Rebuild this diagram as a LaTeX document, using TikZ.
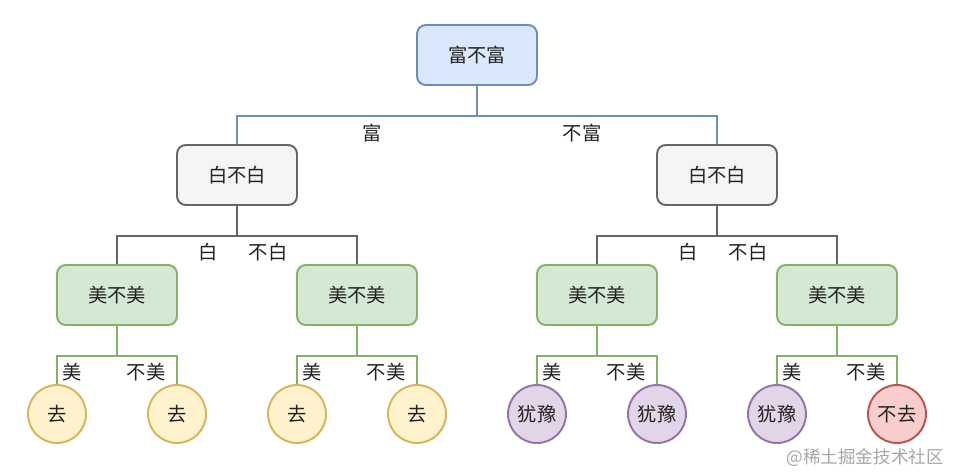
\documentclass[tikz,border=0pt]{standalone}
\usepackage{fontspec}
\setmainfont{Noto Sans CJK SC}
\usetikzlibrary{positioning}

\definecolor{bluefill}{HTML}{DAE8FC}
\definecolor{bluedraw}{HTML}{6C8EBF}
\definecolor{grayfill}{HTML}{F5F5F5}
\definecolor{graydraw}{HTML}{666666}
\definecolor{greenfill}{HTML}{D5E8D4}
\definecolor{greendraw}{HTML}{82B366}
\definecolor{yellowfill}{HTML}{FFF2CC}
\definecolor{yellowdraw}{HTML}{D6B656}
\definecolor{purplefill}{HTML}{E1D5E7}
\definecolor{purpledraw}{HTML}{9673A6}
\definecolor{redfill}{HTML}{F8CECC}
\definecolor{reddraw}{HTML}{B85450}
\definecolor{txt}{HTML}{222222}

\tikzset{
  box/.style={rounded corners=5pt, minimum width=2.4cm, minimum height=1.2cm, line width=1.1pt, text=txt, font=\fontsize{11}{13}\selectfont},
  leaf/.style={circle, minimum size=1.16cm, inner sep=0pt, line width=1.1pt, text=txt, font=\fontsize{11}{13}\selectfont},
  lbl/.style={text=txt, font=\fontsize{11}{13}\selectfont},
  link/.style={line width=1.1pt}
}

\begin{document}
\begin{tikzpicture}[x=0.02cm, y=-0.02cm]
        % Sfondo
        \useasboundingbox (0,0) rectangle (955,474);

        % Radice
        \node[box, fill=bluefill, draw=bluedraw] (root) at (477,55) {富不富};

        % Secondo livello
        \node[box, fill=grayfill, draw=graydraw] (wl) at (237,175) {白不白};
        \node[box, fill=grayfill, draw=graydraw] (wr) at (717,175) {白不白};

        % Terzo livello
        \node[box, fill=greenfill, draw=greendraw] (m1) at (117,295) {美不美};
        \node[box, fill=greenfill, draw=greendraw] (m2) at (357,295) {美不美};
        \node[box, fill=greenfill, draw=greendraw] (m3) at (597,295) {美不美};
        \node[box, fill=greenfill, draw=greendraw] (m4) at (837,295) {美不美};

        % Foglie
        \node[leaf, fill=yellowfill, draw=yellowdraw] (g1) at (57,414) {去};
        \node[leaf, fill=yellowfill, draw=yellowdraw] (g2) at (177,414) {去};
        \node[leaf, fill=yellowfill, draw=yellowdraw] (g3) at (297,414) {去};
        \node[leaf, fill=yellowfill, draw=yellowdraw] (g4) at (417,414) {去};
        \node[leaf, fill=purplefill, draw=purpledraw] (h1) at (537,414) {犹豫};
        \node[leaf, fill=purplefill, draw=purpledraw] (h2) at (657,414) {犹豫};
        \node[leaf, fill=purplefill, draw=purpledraw] (h3) at (777,414) {犹豫};
        \node[leaf, fill=redfill, draw=reddraw] (n1) at (897,414) {不去};

        % Collegamenti
        \draw[link, bluedraw] (root.south) -- ++(0,30) -| (wl.north);
        \draw[link, bluedraw] (root.south) -- ++(0,30) -| (wr.north);
        \draw[link, graydraw] (wl.south) -- ++(0,30) -| (m1.north);
        \draw[link, graydraw] (wl.south) -- ++(0,30) -| (m2.north);
        \draw[link, graydraw] (wr.south) -- ++(0,30) -| (m3.north);
        \draw[link, graydraw] (wr.south) -- ++(0,30) -| (m4.north);
        \draw[link, greendraw] (m1.south) -- ++(0,30) -| (g1.north);
        \draw[link, greendraw] (m1.south) -- ++(0,30) -| (g2.north);
        \draw[link, greendraw] (m2.south) -- ++(0,30) -| (g3.north);
        \draw[link, greendraw] (m2.south) -- ++(0,30) -| (g4.north);
        \draw[link, greendraw] (m3.south) -- ++(0,30) -| (h1.north);
        \draw[link, greendraw] (m3.south) -- ++(0,30) -| (h2.north);
        \draw[link, greendraw] (m4.south) -- ++(0,30) -| (h3.north);
        \draw[link, greendraw] (m4.south) -- ++(0,30) -| (n1.north);

        % Etichette
        \node[lbl] (yes0) at (372,133) {富};
        \node[lbl] (no0) at (582,133) {不富};
        \node[lbl] (yes1) at (208,252) {白};
        \node[lbl] (no1) at (268,252) {不白};
        \node[lbl] (yes2) at (688,252) {白};
        \node[lbl] (no2) at (748,252) {不白};
        \node[lbl] (yes3) at (72,372) {美};
        \node[lbl] (no3) at (146,372) {不美};
        \node[lbl] (yes4) at (312,372) {美};
        \node[lbl] (no4) at (386,372) {不美};
        \node[lbl] (yes5) at (552,372) {美};
        \node[lbl] (no5) at (626,372) {不美};
        \node[lbl] (yes6) at (792,372) {美};
        \node[lbl] (no6) at (866,372) {不美};

        % Filigrana
        \node[text=black!35, font=\fontsize{10}{11}\selectfont, anchor=east] (mark) at (950,458) {@稀土掘金技术社区};
    \end{tikzpicture}
\end{document}
